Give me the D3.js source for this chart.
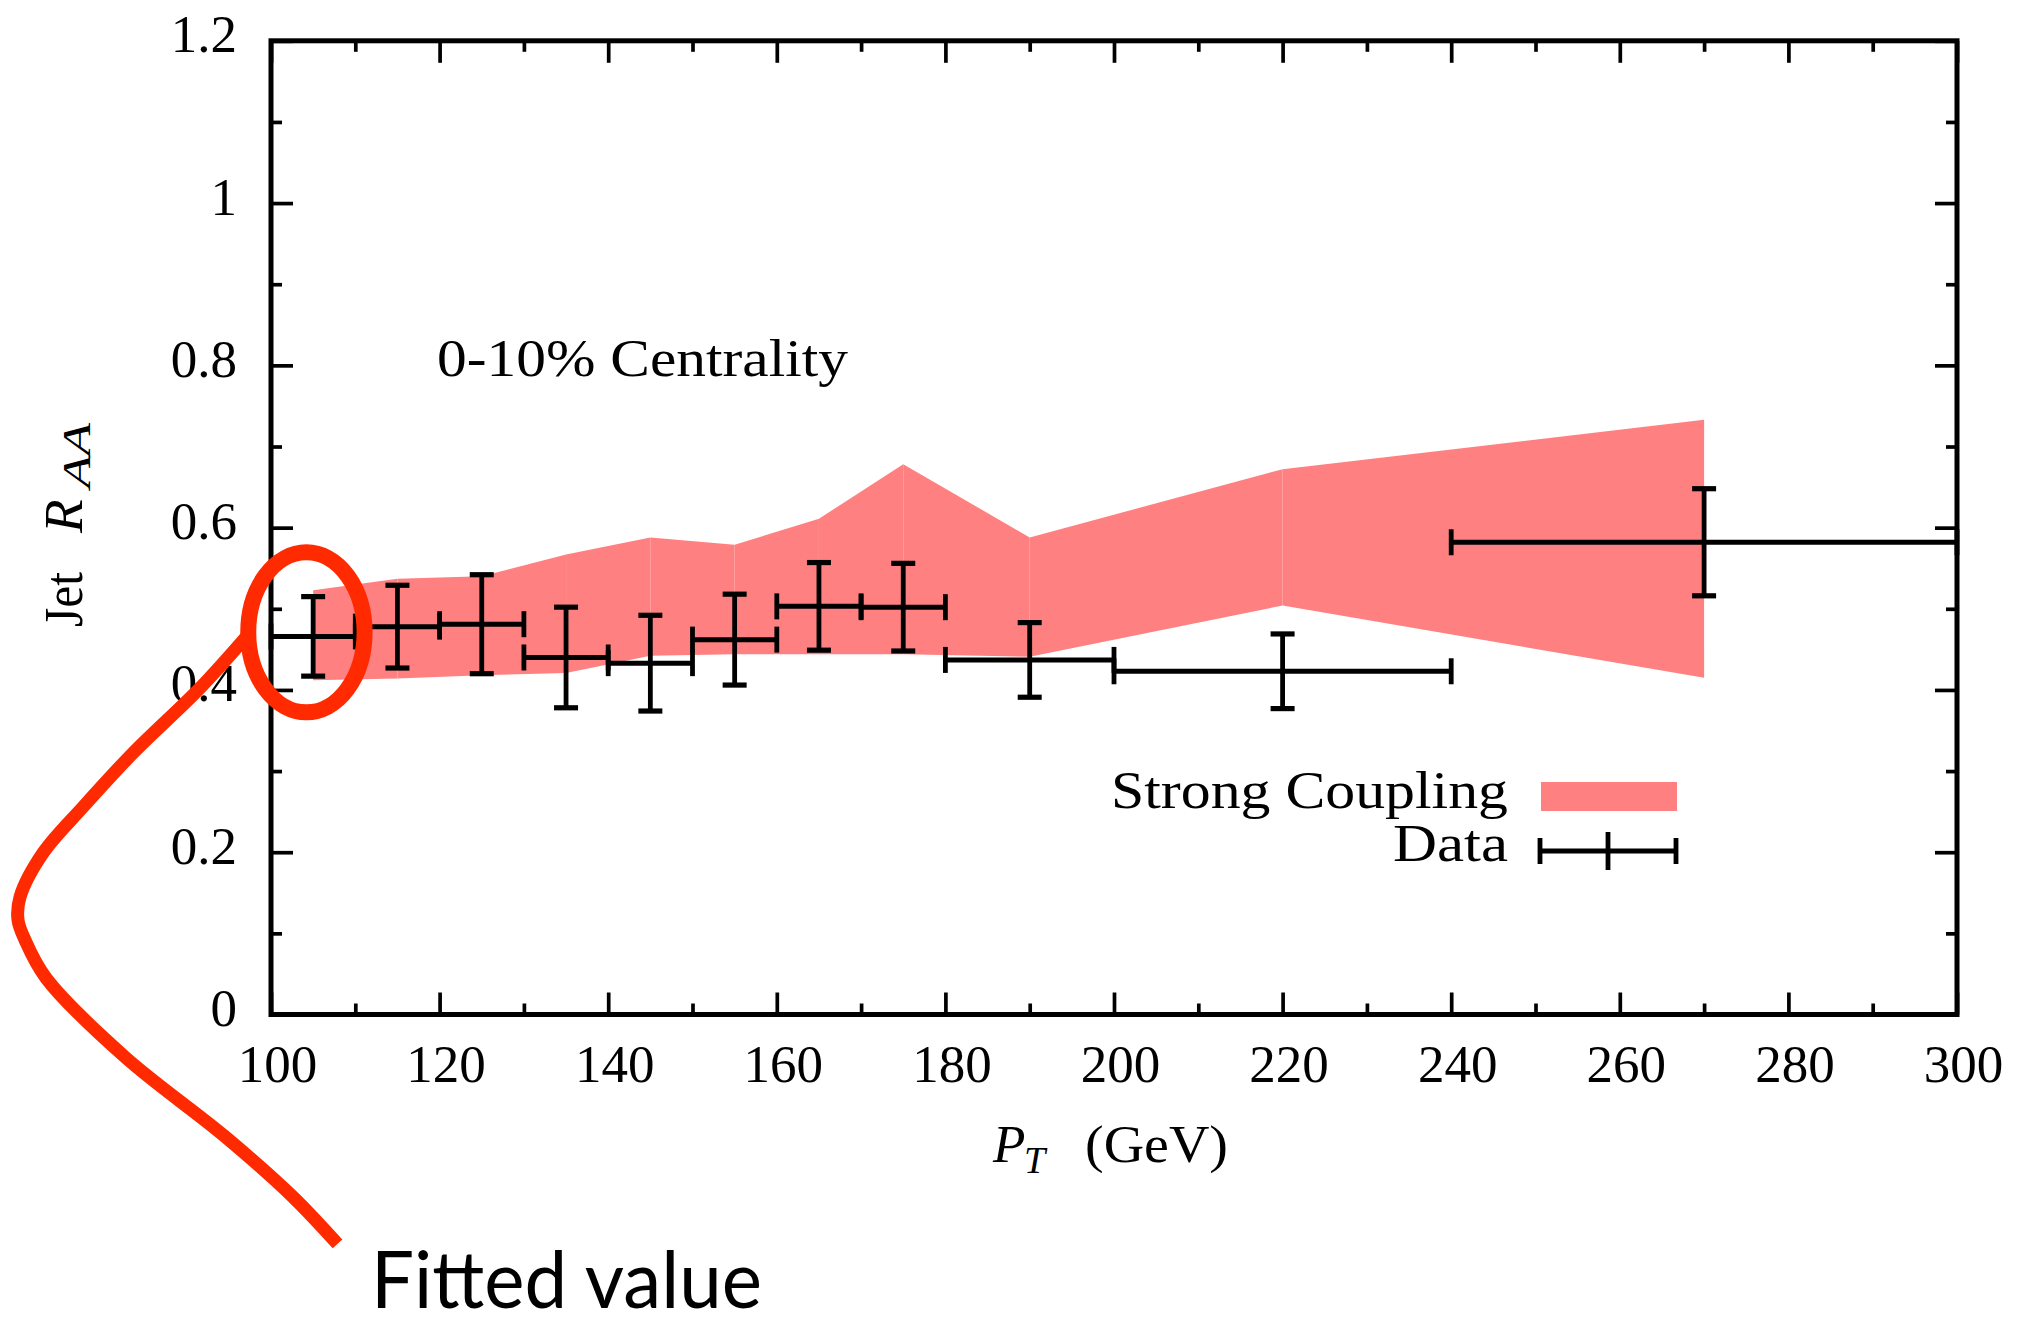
<!DOCTYPE html>
<html>
<head>
<meta charset="utf-8">
<script src="https://cdn.jsdelivr.net/npm/d3@7"></script>
<style>
  html, body { margin: 0; padding: 0; background: #fff; }
  svg { display: block; }
</style>
</head>
<body>
<svg id="chart" width="2021" height="1327"></svg>
<script>
// Data points (jet R_AA vs pT, 0-10% centrality)
const ptCenters = [105, 115, 125, 135, 145, 155, 165, 175, 190, 220, 270];
const ptLow = [100, 110, 120, 130, 140, 150, 160, 170, 180, 200, 240];
const ptHigh = [110, 120, 130, 140, 150, 160, 170, 180, 200, 240, 300];
const raa = [0.466, 0.478, 0.481, 0.440, 0.433, 0.462, 0.503, 0.502, 0.437, 0.423, 0.582];
const raaErr = [0.049, 0.051, 0.061, 0.062, 0.059, 0.056, 0.054, 0.054, 0.046, 0.046, 0.066];

// Strong coupling band
const bandPt = [105, 115, 125, 135, 145, 155, 165, 175, 190, 220, 270];
const bandLow = [0.412, 0.414, 0.418, 0.421, 0.442, 0.444, 0.444, 0.444, 0.441, 0.504, 0.415];
const bandHigh = [0.523, 0.537, 0.540, 0.567, 0.588, 0.579, 0.611, 0.678, 0.588, 0.672, 0.733];

// ticks
const xTicks = [100, 120, 140, 160, 180, 200, 220, 240, 260, 280, 300];
const xMinorTicks = [110, 130, 150, 170, 190, 210, 230, 250, 270, 290];
const yTicks = [0, 0.2, 0.4, 0.6, 0.8, 1, 1.2];
const yMinorTicks = [0.1, 0.3, 0.5, 0.7, 0.9, 1.1];

// "Fitted value" annotation, in data units (pT, R_AA)
const ovalCenter = [104.2, 0.471];
const ovalRadius = [6.9, 0.0986];
const arrowPt = [97.15, 91.58, 83.63, 77.70, 72.95, 70.23, 69.99, 70.82, 73.31, 82.68, 94.54, 102.49, 107.89];
const arrowRaa = [0.4665, 0.4024, 0.3223, 0.2557, 0.1990, 0.1448, 0.1165, 0.0918, 0.0450, -0.0524, -0.1504, -0.2237, -0.2828];

const SERIF = "'Liberation Serif', 'Times New Roman', serif";
const BAND = "#ff8080";
const RED = "#ff2a00";

const svg = d3.select("#chart");
svg.append("rect").attr("width", 2021).attr("height", 1327).attr("fill", "#fff");

const plotLeft = 271, plotRight = 1957, plotTop = 40.8, plotBottom = 1014.5;
const x = d3.scaleLinear().domain([100, 300]).range([plotLeft, plotRight]);
const y = d3.scaleLinear().domain([0, 1.2]).range([plotBottom, plotTop]);

const g = svg.append("g");

// band, drawn piece by piece like the original
const band = bandPt.map((p, i) => ({ p, lo: bandLow[i], hi: bandHigh[i] }));
const area = d3.area().x((d) => x(d.p)).y0((d) => y(d.lo)).y1((d) => y(d.hi));
for (let i = 0; i < band.length - 1; i++) {
  g.append("path").attr("d", area([band[i], band[i + 1]])).attr("fill", BAND);
}

// axes
function styleAxis(sel, tickWidth) {
  sel.select(".domain").remove();
  sel.attr("font-family", SERIF).attr("font-size", 53);
  sel.selectAll(".tick line").attr("stroke", "#000").attr("stroke-width", tickWidth);
  sel.selectAll(".tick text").attr("fill", "#000");
}

g.append("g")
  .attr("transform", `translate(0,${plotBottom})`)
  .call(d3.axisBottom(x).tickValues(xTicks).tickSizeInner(-22).tickSizeOuter(0).tickFormat((d) => d))
  .call((a) => styleAxis(a, 3.7))
  .selectAll("text")
  .attr("y", 67)
  .attr("dy", 0)
  .attr("dx", 6);

g.append("g")
  .attr("transform", `translate(0,${plotBottom})`)
  .call(d3.axisBottom(x).tickValues(xMinorTicks).tickSizeInner(-11).tickSizeOuter(0).tickFormat(""))
  .call((a) => styleAxis(a, 3.7));

g.append("g")
  .attr("transform", `translate(0,${plotTop})`)
  .call(d3.axisTop(x).tickValues(xTicks).tickSizeInner(-22).tickSizeOuter(0).tickFormat(""))
  .call((a) => styleAxis(a, 3.7));

g.append("g")
  .attr("transform", `translate(0,${plotTop})`)
  .call(d3.axisTop(x).tickValues(xMinorTicks).tickSizeInner(-11).tickSizeOuter(0).tickFormat(""))
  .call((a) => styleAxis(a, 3.7));

g.append("g")
  .attr("transform", `translate(${plotLeft},0)`)
  .call(d3.axisLeft(y).tickValues(yTicks).tickSizeInner(-22).tickSizeOuter(0).tickFormat((d) => String(d)))
  .call((a) => styleAxis(a, 3.7))
  .selectAll("text")
  .attr("x", -34)
  .attr("y", 11)
  .attr("dy", 0);

g.append("g")
  .attr("transform", `translate(${plotLeft},0)`)
  .call(d3.axisLeft(y).tickValues(yMinorTicks).tickSizeInner(-11).tickSizeOuter(0).tickFormat(""))
  .call((a) => styleAxis(a, 3.7));

g.append("g")
  .attr("transform", `translate(${plotRight},0)`)
  .call(d3.axisRight(y).tickValues(yTicks).tickSizeInner(-22).tickSizeOuter(0).tickFormat(""))
  .call((a) => styleAxis(a, 3.7));

g.append("g")
  .attr("transform", `translate(${plotRight},0)`)
  .call(d3.axisRight(y).tickValues(yMinorTicks).tickSizeInner(-11).tickSizeOuter(0).tickFormat(""))
  .call((a) => styleAxis(a, 3.7));

// frame
g.append("rect")
  .attr("x", plotLeft)
  .attr("y", plotTop)
  .attr("width", plotRight - plotLeft)
  .attr("height", plotBottom - plotTop)
  .attr("fill", "none")
  .attr("stroke", "#000")
  .attr("stroke-width", 5);

// data with x and y error bars
const pts = ptCenters.map((c, i) => ({ c, lo: ptLow[i], hi: ptHigh[i], v: raa[i], e: raaErr[i] }));
const bars = g.append("g").attr("stroke", "#000").attr("fill", "none");
pts.forEach((d) => {
  const cy = y(d.v);
  bars.append("line").attr("x1", x(d.lo)).attr("x2", x(d.hi)).attr("y1", cy).attr("y2", cy).attr("stroke-width", 5);
  [d.lo, d.hi].forEach((xv) => {
    bars.append("line").attr("x1", x(xv)).attr("x2", x(xv)).attr("y1", cy - 13).attr("y2", cy + 13).attr("stroke-width", 4.8);
  });
  bars.append("line").attr("x1", x(d.c)).attr("x2", x(d.c)).attr("y1", y(d.v - d.e)).attr("y2", y(d.v + d.e)).attr("stroke-width", 4.8);
  [d.v - d.e, d.v + d.e].forEach((yv) => {
    bars.append("line").attr("x1", x(d.c) - 12).attr("x2", x(d.c) + 12).attr("y1", y(yv)).attr("y2", y(yv)).attr("stroke-width", 5.2);
  });
});

// texts
g.append("text")
  .attr("x", 437)
  .attr("y", 376)
  .attr("font-family", SERIF)
  .attr("font-size", 53)
  .attr("textLength", 411)
  .attr("lengthAdjust", "spacingAndGlyphs")
  .text("0-10% Centrality");

// legend
const legend = g.append("g").attr("font-family", SERIF).attr("font-size", 53);
legend.append("text")
  .attr("x", 1508).attr("y", 808).attr("text-anchor", "end")
  .attr("textLength", 397).attr("lengthAdjust", "spacingAndGlyphs")
  .text("Strong Coupling");
legend.append("rect").attr("x", 1541).attr("y", 782).attr("width", 136).attr("height", 29).attr("fill", BAND);
legend.append("text")
  .attr("x", 1508).attr("y", 861).attr("text-anchor", "end")
  .attr("textLength", 115).attr("lengthAdjust", "spacingAndGlyphs")
  .text("Data");
const key = legend.append("g").attr("stroke", "#000");
key.append("line").attr("x1", 1540).attr("x2", 1676).attr("y1", 851).attr("y2", 851).attr("stroke-width", 5);
key.append("line").attr("x1", 1540).attr("x2", 1540).attr("y1", 838).attr("y2", 864).attr("stroke-width", 4.8);
key.append("line").attr("x1", 1676).attr("x2", 1676).attr("y1", 838).attr("y2", 864).attr("stroke-width", 4.8);
key.append("line").attr("x1", 1608).attr("x2", 1608).attr("y1", 832).attr("y2", 870).attr("stroke-width", 4.8);

// axis titles
const xt = g.append("g").attr("font-family", SERIF).attr("fill", "#000");
xt.append("text").attr("x", 993).attr("y", 1162).attr("font-size", 53).attr("font-style", "italic").text("P");
xt.append("text").attr("x", 1024).attr("y", 1173).attr("font-size", 38).attr("font-style", "italic").text("T");
xt.append("text").attr("x", 1085).attr("y", 1162).attr("font-size", 53)
  .attr("textLength", 143).attr("lengthAdjust", "spacingAndGlyphs").text("(GeV)");

const yt = g.append("g").attr("font-family", SERIF).attr("transform", "translate(82,627) rotate(-90)");
yt.append("text").attr("x", 0).attr("y", 0).attr("font-size", 55)
  .attr("textLength", 55).attr("lengthAdjust", "spacingAndGlyphs").text("Jet");
yt.append("text").attr("x", 94).attr("y", 0).attr("font-size", 55).attr("font-style", "italic").text("R");
yt.append("text").attr("x", 139).attr("y", 8).attr("font-size", 40).attr("font-style", "italic")
  .attr("textLength", 65).attr("lengthAdjust", "spacingAndGlyphs").text("AA");

// annotation
const ann = svg.append("g").attr("fill", "none").attr("stroke", RED);
ann.append("ellipse")
  .attr("cx", x(ovalCenter[0]))
  .attr("cy", y(ovalCenter[1]))
  .attr("rx", x(ovalCenter[0] + ovalRadius[0]) - x(ovalCenter[0]))
  .attr("ry", y(ovalCenter[1]) - y(ovalCenter[1] + ovalRadius[1]))
  .attr("stroke-width", 16);

const arrow = arrowPt.map((p, i) => [p, arrowRaa[i]]);
ann.append("path")
  .attr("d", d3.line().x((d) => x(d[0])).y((d) => y(d[1])).curve(d3.curveCatmullRom.alpha(0.5))(arrow))
  .attr("stroke-width", 13)
  .attr("stroke-linecap", "butt");

// label sits right at the bottom edge; pulled up a little so its box stays inside
svg.append("text")
  .attr("x", 371)
  .attr("y", 1308)
  .attr("font-family", "Lato, 'Open Sans', sans-serif")
  .attr("font-size", 80)
  .attr("textLength", 391)
  .attr("lengthAdjust", "spacingAndGlyphs")
  .text("Fitted value");
</script>
</body>
</html>
